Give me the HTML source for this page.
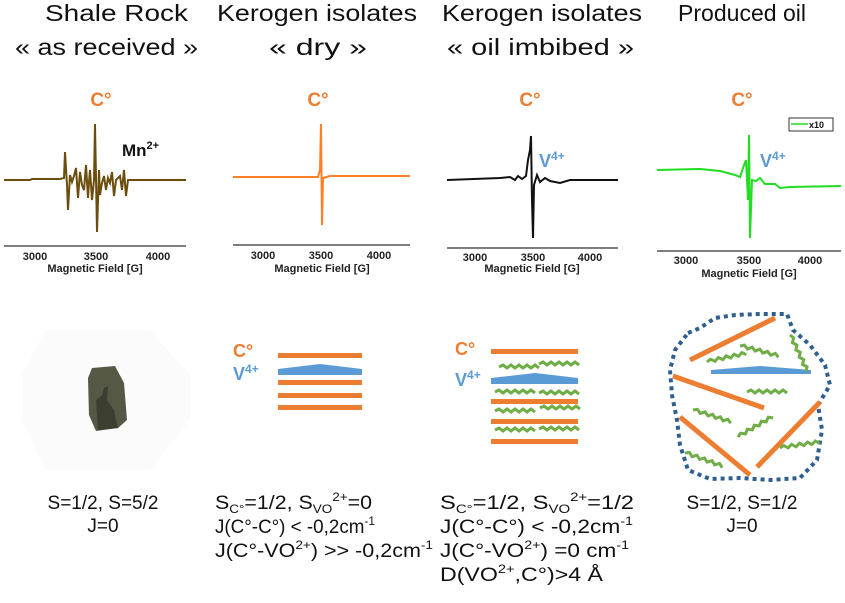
<!DOCTYPE html>
<html><head><meta charset="utf-8"><style>
html,body{margin:0;padding:0;background:#fff;}
svg{display:block;}
text{font-family:"Liberation Sans",sans-serif;}
</style></head><body>
<svg width="845" height="603" viewBox="0 0 845 603" xmlns="http://www.w3.org/2000/svg">
<defs>
<g id="sq"><polyline points="0,0 4,-2 8,1 12,-2 16,1 20,-2 24,1 28,-2 32,1 36,-2 40,1" fill="none" stroke="#70AD47" stroke-width="3"/></g>
</defs>
<!-- titles -->
<g font-size="23" fill="#111" lengthAdjust="spacingAndGlyphs">
<text x="45" y="21" textLength="143" lengthAdjust="spacingAndGlyphs">Shale Rock</text>
<text x="15" y="55" textLength="183" lengthAdjust="spacingAndGlyphs">« as received »</text>
<text x="217" y="21" textLength="200" lengthAdjust="spacingAndGlyphs">Kerogen isolates</text>
<text x="269" y="55" textLength="98" lengthAdjust="spacingAndGlyphs">« dry  »</text>
<text x="442" y="21" textLength="200" lengthAdjust="spacingAndGlyphs">Kerogen isolates</text>
<text x="447" y="55" textLength="187" lengthAdjust="spacingAndGlyphs">« oil imbibed  »</text>
<text x="678" y="21" textLength="128" lengthAdjust="spacingAndGlyphs">Produced oil</text>
</g>
<g font-size="19" font-weight="bold" fill="#ED7D31" text-anchor="middle">
<text x="101" y="106">C°</text><text x="318" y="106">C°</text><text x="530" y="106">C°</text><text x="742" y="106">C°</text>
</g>
<!-- axes -->
<g stroke="#333" stroke-width="1.2">
<line x1="4" y1="246" x2="186" y2="246"/><line x1="233" y1="245" x2="410" y2="245"/>
<line x1="447" y1="248" x2="618" y2="248"/><line x1="657" y1="251" x2="841" y2="251"/>
</g>
<g font-size="11" font-weight="bold" fill="#222" text-anchor="middle">
<text x="35" y="260">3000</text><text x="96" y="260">3500</text><text x="158" y="260">4000</text>
<text x="95" y="272">Magnetic Field [G]</text>
<text x="263" y="259">3000</text><text x="321" y="259">3500</text><text x="379" y="259">4000</text>
<text x="322" y="272">Magnetic Field [G]</text>
<text x="475" y="261">3000</text><text x="533" y="261">3500</text><text x="590" y="261">4000</text>
<text x="532" y="272">Magnetic Field [G]</text>
<text x="686" y="264">3000</text><text x="749" y="264">3500</text><text x="810" y="264">4000</text>
<text x="749" y="277">Magnetic Field [G]</text>
</g>
<!-- spectra -->
<polyline fill="none" stroke="#6B4E0E" stroke-width="2" points="4,180 30,180 32,179 60,179 64,178 65,152 67,185 68,210 70,175 72,182 74,176 76,168 78,198 80,172 82,185 84,190 86,165 88,198 89,182 90,170 92,200 94,180 95,124 97,232 99,170 100,195 102,183 104,176 106,190 108,178 110,183 112,172 114,196 116,180 120,176 122,190 124,170 126,196 128,180 130,180 186,180"/>
<polyline fill="none" stroke="#FF7F27" stroke-width="2" points="233,177 318,177 320,170 321,124 322,225 323,178 330,176 410,176"/>
<polyline fill="none" stroke="#111" stroke-width="2" points="447,180 500,178 510,177 515,180 518,176 522,179 526,176 528,160 530,150 531,136 532,200 533,238 534,185 537,175 540,182 545,178 550,181 560,183 570,180 618,180"/>
<polyline fill="none" stroke="#22DD22" stroke-width="2" points="657,170 700,169 720,171 735,175 740,177 743,168 746,160 748,200 749,135 750,238 752,180 756,181 760,178 765,184 775,184 780,188 790,187 841,186"/>
<rect x="789" y="118" width="44" height="13" fill="#fff" stroke="#333" stroke-width="1"/>
<line x1="791" y1="124" x2="808" y2="124" stroke="#22DD22" stroke-width="1.5"/>
<text x="809" y="128" font-size="9" font-weight="bold" fill="#111">x10</text>
<text x="122" y="156" font-size="17" font-weight="bold" fill="#111">Mn<tspan font-size="11" dy="-7">2+</tspan></text>
<g font-size="18" font-weight="bold" fill="#5B9BD5">
<text x="539" y="167">V<tspan font-size="12" dy="-7">4+</tspan></text>
<text x="760" y="167">V<tspan font-size="12" dy="-7">4+</tspan></text>
</g>
<!-- rock -->
<polygon points="45,330 150,330 190,375 190,420 150,470 45,470 22,420 22,375" fill="#fbfbfb"/>
<path d="M92,368 L115,366 L124,383 L127,420 L118,428 L96,431 L89,415 L88,378 Z" fill="#555845"/>
<path d="M98,430 L96,400 L102,395 L104,388 L108,386 L107,400 L114,410 L116,420 L118,428 Z" fill="#3c3f2f"/>
<!-- col2 -->
<g font-size="18" font-weight="bold">
<text x="233" y="357" fill="#ED7D31">C°</text>
<text x="233" y="380" fill="#5B9BD5">V<tspan font-size="12" dy="-7">4+</tspan></text>
<text x="455" y="355" fill="#ED7D31">C°</text>
<text x="455" y="386" fill="#5B9BD5">V<tspan font-size="12" dy="-7">4+</tspan></text>
</g>
<g fill="#ED7D31">
<rect x="278" y="353" width="84" height="5"/><rect x="278" y="380" width="84" height="5"/>
<rect x="278" y="393" width="84" height="5"/><rect x="278" y="405" width="84" height="5"/>
<rect x="491" y="349" width="87" height="5"/><rect x="491" y="399" width="87" height="5"/>
<rect x="491" y="419" width="87" height="5"/><rect x="491" y="439" width="87" height="5"/>
</g>
<polygon points="278,369 320,364 362,369 362,375 278,375" fill="#5B9BD5"/>
<polygon points="491,378 535,373 578,378 578,384 491,384" fill="#5B9BD5"/>
<g>
<use href="#sq" x="499" y="367"/><use href="#sq" x="539" y="364"/>
<use href="#sq" x="495" y="392"/><use href="#sq" x="539" y="393"/>
<use href="#sq" x="495" y="411"/><use href="#sq" x="540" y="408"/>
<use href="#sq" x="495" y="430"/><use href="#sq" x="539" y="429"/>
</g>
<!-- col4 -->
<path d="M688,333 L700,328 L715,318 L735,315 L760,314 L787,314 L793,330 L810,345 L825,365 L830,385 L818,405 L822,430 L817,460 L800,478 L770,480 L740,478 L710,479 L688,470 L680,445 L677,420 L672,395 L670,370 L675,350 Z" fill="none" stroke="#2E5F8E" stroke-width="4" stroke-dasharray="4,4"/>
<line x1="690" y1="360" x2="775" y2="318" stroke="#ED7D31" stroke-width="5"/>
<line x1="673" y1="376" x2="764" y2="408" stroke="#ED7D31" stroke-width="5"/>
<line x1="680" y1="417" x2="750" y2="475" stroke="#ED7D31" stroke-width="5"/>
<line x1="757" y1="467" x2="820" y2="402" stroke="#ED7D31" stroke-width="5"/>
<polygon points="711,370 760,366 811,370 811,374 711,374" fill="#5B9BD5"/>
<g>
<use href="#sq" x="707" y="362" transform="rotate(-12 707 362)"/>
<use href="#sq" x="740" y="346" transform="rotate(15 740 346)"/>
<use href="#sq" x="790" y="335" transform="rotate(65 790 335)"/>
<use href="#sq" x="747" y="392"/>
<use href="#sq" x="693" y="410" transform="rotate(18 693 410)"/>
<use href="#sq" x="738" y="437" transform="rotate(-30 738 437)"/>
<use href="#sq" x="685" y="453" transform="rotate(20 685 453)"/>
<use href="#sq" x="780" y="448" transform="rotate(-8 780 448)"/>
</g>
<!-- bottom text -->
<g font-size="19" fill="#111">
<text x="103" y="509" text-anchor="middle">S=1/2, S=5/2</text>
<text x="103" y="532" text-anchor="middle">J=0</text>
<text x="742" y="509" text-anchor="middle">S=1/2, S=1/2</text>
<text x="742" y="532" text-anchor="middle">J=0</text>
<text x="215" y="509" textLength="157" lengthAdjust="spacingAndGlyphs">S<tspan font-size="12" dy="4">C°</tspan><tspan dy="-4">=1/2, S</tspan><tspan font-size="12" dy="4">VO</tspan><tspan font-size="12" dy="-12">2+</tspan><tspan dy="8">=0</tspan></text>
<text x="215" y="533" textLength="160" lengthAdjust="spacingAndGlyphs">J(C°-C°) &lt; -0,2cm<tspan font-size="12" dy="-8">-1</tspan></text>
<text x="215" y="557" textLength="218" lengthAdjust="spacingAndGlyphs">J(C°-VO<tspan font-size="12" dy="-8">2+</tspan><tspan dy="8">) &gt;&gt; -0,2cm</tspan><tspan font-size="12" dy="-8">-1</tspan></text>
<text x="440" y="509" textLength="194" lengthAdjust="spacingAndGlyphs">S<tspan font-size="12" dy="4">C°</tspan><tspan dy="-4">=1/2, S</tspan><tspan font-size="12" dy="4">VO</tspan><tspan font-size="12" dy="-12">2+</tspan><tspan dy="8">=1/2</tspan></text>
<text x="440" y="533" textLength="193" lengthAdjust="spacingAndGlyphs">J(C°-C°) &lt; -0,2cm<tspan font-size="12" dy="-8">-1</tspan></text>
<text x="440" y="557" textLength="189" lengthAdjust="spacingAndGlyphs">J(C°-VO<tspan font-size="12" dy="-8">2+</tspan><tspan dy="8">) =0 cm</tspan><tspan font-size="12" dy="-8">-1</tspan></text>
<text x="440" y="581" textLength="163" lengthAdjust="spacingAndGlyphs">D(VO<tspan font-size="12" dy="-8">2+</tspan><tspan dy="8">,C°)&gt;4 Å</tspan></text>
</g>
</svg>
</body></html>
